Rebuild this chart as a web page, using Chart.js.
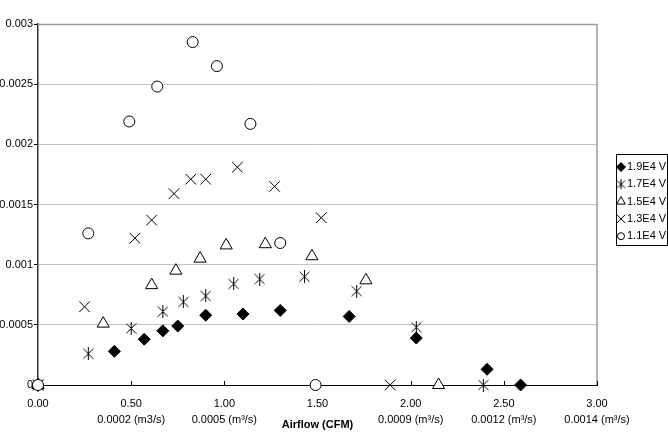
<!DOCTYPE html>
<html>
<head>
<meta charset="utf-8">
<script src="https://cdn.jsdelivr.net/npm/chart.js@4.4.1/dist/chart.umd.min.js"></script>
<style>
  html, body { margin: 0; padding: 0; background: #fff; }
  #wrap { position: relative; width: 668px; height: 434px; }
</style>
</head>
<body>
<div id="wrap"><canvas id="airChart" width="668" height="434"></canvas></div>
<script>
// series (x = airflow CFM, y = value)
const x19 = [0, 0.41, 0.57, 0.67, 0.75, 0.90, 1.10, 1.30, 1.67, 2.03, 2.41, 2.59];
const y19 = [0, 0.00028, 0.00038, 0.00045, 0.00049, 0.00058, 0.00059, 0.00062, 0.00057, 0.00039, 0.00013, 0];

const x17 = [0, 0.27, 0.50, 0.67, 0.78, 0.90, 1.05, 1.19, 1.43, 1.71, 2.03, 2.39];
const y17 = [0, 0.00026, 0.00047, 0.00061, 0.00069, 0.00074, 0.00084, 0.00088, 0.0009, 0.00078, 0.00048, 0];

const x15 = [0, 0.35, 0.61, 0.74, 0.87, 1.01, 1.22, 1.47, 1.76, 2.15];
const y15 = [0, 0.00051, 0.00083, 0.00095, 0.00105, 0.00116, 0.00117, 0.00107, 0.00087, 0];

const x13 = [0, 0.25, 0.52, 0.61, 0.73, 0.82, 0.90, 1.07, 1.27, 1.52, 1.89];
const y13 = [0, 0.00065, 0.00122, 0.00137, 0.00159, 0.00171, 0.00171, 0.00181, 0.00165, 0.00139, 0];

const x11 = [0, 0.27, 0.49, 0.64, 0.83, 0.96, 1.14, 1.30, 1.49];
const y11 = [0, 0.00126, 0.00219, 0.00248, 0.00285, 0.00265, 0.00217, 0.00118, 0];

const seriesNames = ['1.9E4 V', '1.7E4 V', '1.5E4 V', '1.3E4 V', '1.1E4 V'];
const xTickLabels = {
  '0': ['0.00'],
  '0.5': ['0.50', '0.0002 (m3/s)'],
  '1': ['1.00', '0.0005 (m³/s)'],
  '1.5': ['1.50'],
  '2': ['2.00', '0.0009 (m³/s)'],
  '2.5': ['2.50', '0.0012 (m³/s)'],
  '3': ['3.00', '0.0014 (m³/s)']
};

function pts(xs, ys) {
  return xs.map((x, i) => ({ x: x, y: ys[i] }));
}

// star marker: X + vertical bar
function makeStar(w, h) {
  const c = document.createElement('canvas');
  c.width = w; c.height = h;
  const g = c.getContext('2d');
  g.strokeStyle = '#000';
  g.lineWidth = 1;
  g.beginPath();
  g.moveTo(w / 2, 0); g.lineTo(w / 2, h);
  g.moveTo(0.5, 1.5); g.lineTo(w - 0.5, h - 1.5);
  g.moveTo(w - 0.5, 1.5); g.lineTo(0.5, h - 1.5);
  g.stroke();
  return c;
}
const starBig = makeStar(11, 13);
const starSmall = makeStar(9, 10);

const markers = [
  { pointStyle: 'rectRot', radius: 6, backgroundColor: '#000', legendRadius: 4.5 },
  { pointStyle: starBig, radius: 6, backgroundColor: '#000', legendStyle: starSmall },
  { pointStyle: 'triangle', radius: 7, backgroundColor: '#fff', legendRadius: 5 },
  { pointStyle: 'crossRot', radius: 7.5, backgroundColor: '#fff', legendRadius: 6 },
  { pointStyle: 'circle', radius: 5.5, backgroundColor: '#fff', legendRadius: 3.5 }
];

const allData = [pts(x19, y19), pts(x17, y17), pts(x15, y15), pts(x13, y13), pts(x11, y11)];

const datasets = allData.map((d, i) => ({
  label: seriesNames[i],
  data: d,
  order: allData.length - i, // later series drawn on top, like the original
  showLine: false,
  clip: false,
  pointStyle: markers[i].pointStyle,
  pointRadius: markers[i].radius,
  pointHoverRadius: markers[i].radius,
  pointBackgroundColor: markers[i].backgroundColor,
  pointBorderColor: '#000',
  pointBorderWidth: 1
}));

// frame lines, inner x ticks and the boxed legend
const framePlugin = {
  id: 'framePlugin',
  beforeDatasetsDraw(chart) {
    const { ctx, chartArea: a, scales } = chart;
    ctx.save();
    ctx.strokeStyle = '#9a9a9a';
    ctx.lineWidth = 1.5;
    ctx.beginPath();
    ctx.moveTo(a.left, a.top + 0.5);
    ctx.lineTo(a.right, a.top + 0.5);
    ctx.lineTo(a.right, a.bottom);
    ctx.stroke();
    ctx.strokeStyle = '#000';
    ctx.lineWidth = 1;
    ctx.beginPath();
    scales.x.ticks.forEach(t => {
      const px = Math.round(scales.x.getPixelForValue(t.value)) + 0.5;
      ctx.moveTo(px, a.bottom);
      ctx.lineTo(px, a.bottom - 4);
    });
    ctx.stroke();
    ctx.restore();
  },
  afterDraw(chart) {
    const ctx = chart.ctx;
    ctx.save();
    ctx.strokeStyle = '#000';
    ctx.lineWidth = 1;
    ctx.strokeRect(616.5, 154.5, 51, 91);
    ctx.font = '11px "Liberation Sans", Arial, sans-serif';
    ctx.textBaseline = 'middle';
    seriesNames.forEach((name, i) => {
      const y = 167 + i * 17.3;
      const m = markers[i];
      ctx.fillStyle = m.backgroundColor;
      ctx.strokeStyle = '#000';
      Chart.helpers.drawPoint(ctx, {
        pointStyle: m.legendStyle || m.pointStyle,
        radius: m.legendRadius || 4,
        rotation: 0,
        borderWidth: 1
      }, 621, y);
      ctx.fillStyle = '#000';
      ctx.fillText(name, 627, y);
    });
    ctx.restore();
  }
};

Chart.defaults.font.family = '"Liberation Sans", Arial, sans-serif';
Chart.defaults.font.size = 11;
Chart.defaults.color = '#000';

const ctx = document.getElementById('airChart').getContext('2d');
window.airChart = new Chart(ctx, {
  type: 'scatter',
  data: { datasets: datasets },
  options: {
    responsive: false,
    animation: false,
    events: [],
    layout: { padding: { top: 24, right: 71, left: 0, bottom: 0 } },
    scales: {
      x: {
        type: 'linear',
        min: 0,
        max: 3,
        afterFit(scale) { scale.height = 49; },
        ticks: {
          stepSize: 0.5,
          padding: 11,
          maxRotation: 0,
          autoSkip: false,
          font: { size: 11, lineHeight: 1.45 },
          callback(value) {
            return xTickLabels[String(value)] || value.toFixed(2);
          }
        },
        grid: { display: true, drawOnChartArea: false, drawTicks: false },
        border: { display: true, color: '#000', width: 1 },
        title: {
          display: true,
          text: 'Airflow (CFM)',
          font: { size: 11, weight: 'bold' },
          padding: { top: 0, bottom: 2 }
        }
      },
      y: {
        min: 0,
        max: 0.003,
        afterFit(scale) { scale.width = 38; },
        ticks: {
          stepSize: 0.0005,
          padding: 1,
          callback(value) { return String(+value.toFixed(4)); }
        },
        grid: { color: '#c4c4c4', tickColor: '#000', tickLength: 4, lineWidth: 1 },
        border: { display: true, color: '#333', width: 1.5 }
      }
    },
    plugins: {
      legend: { display: false },
      tooltip: { enabled: false }
    }
  },
  plugins: [framePlugin]
});
</script>
</body>
</html>
